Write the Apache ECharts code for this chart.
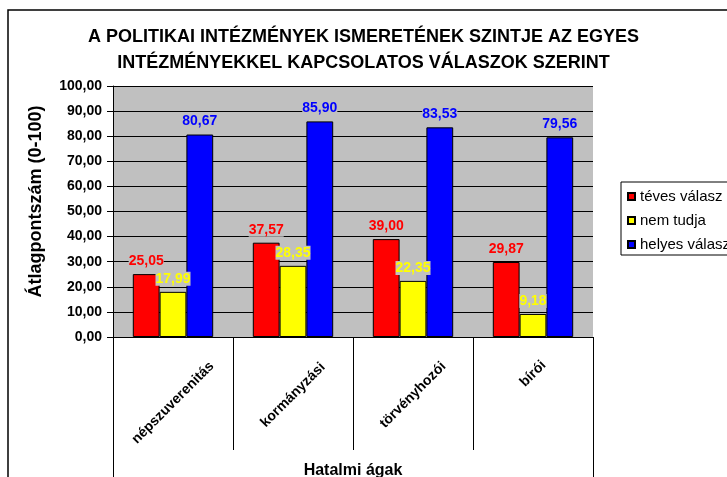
<!DOCTYPE html>
<html>
<head>
<meta charset="utf-8">
<script src="https://cdn.jsdelivr.net/npm/echarts@6/dist/echarts.min.js"></script>
<style>
  html, body { margin: 0; padding: 0; background: #fff; }
  #chart { width: 727px; height: 477px; }
</style>
</head>
<body>
<div id="chart"></div>
<script>
// adatok
var categories = ['népszuverenitás', 'kormányzási', 'törvényhozói', 'bírói'];
var teves = [25.05, 37.57, 39.00, 29.87];
var nemTudja = [17.99, 28.35, 22.35, 9.18];
var helyes = [80.67, 85.90, 83.53, 79.56];
// label shift (px, + = up) so rotated labels hang from the same top line
var labelShift = [-8, 0, 0, 21];

var font = 'Liberation Sans, Arial, sans-serif';
var fmt = function (v) { return v.toFixed(2).replace('.', ','); };

function catItem(name, i) {
  var d = labelShift[i];
  if (!d) {
    return { value: name, textStyle: { align: 'center', verticalAlign: 'middle' } };
  }
  // split the vertical shift into a shift along the text (padding)
  // and one across it (lineHeight + verticalAlign)
  var s = Math.abs(d) / 1.414;
  var p = Math.round(2 * s);
  return {
    value: name,
    textStyle: {
      align: 'center',
      verticalAlign: d > 0 ? 'bottom' : 'top',
      lineHeight: p,
      padding: d > 0 ? [0, 0, 0, p] : [0, p, 0, 0]
    }
  };
}

function barSeries(name, data, color) {
  return {
    name: name,
    type: 'bar',
    data: data,
    barGap: '0%',
    barCategoryGap: '33%',
    itemStyle: { color: color, borderColor: '#000', borderWidth: 1 },
    label: {
      show: true,
      position: 'top',
      distance: 6,
      color: color,
      fontFamily: font,
      fontWeight: 'bold',
      fontSize: 14,
      backgroundColor: '#c0c0c0',
      formatter: function (p) { return fmt(p.value); }
    }
  };
}

var chart = echarts.init(document.getElementById('chart'));
chart.setOption({
  animation: false,
  backgroundColor: '#fff',
  title: {
    text: 'A POLITIKAI INTÉZMÉNYEK ISMERETÉNEK SZINTJE AZ EGYES\nINTÉZMÉNYEKKEL KAPCSOLATOS VÁLASZOK SZERINT',
    left: 'center',
    top: 24,
    padding: 0,
    textStyle: { fontFamily: font, fontWeight: 'bold', fontSize: 18, lineHeight: 26, color: '#000' }
  },
  legend: {
    orient: 'vertical',
    left: 621,
    top: 182,
    padding: [7, 20, 3, 6],
    itemGap: 9,
    itemWidth: 7,
    itemHeight: 7,
    icon: 'rect',
    borderColor: '#000',
    borderWidth: 1,
    textStyle: { fontFamily: font, fontSize: 15, color: '#000' },
    data: ['téves válasz', 'nem tudja', 'helyes válasz']
  },
  grid: {
    left: 113, right: 134, top: 86, bottom: 140,
    outerBoundsMode: 'none',
    containLabel: false,
    show: true, backgroundColor: '#c0c0c0', borderWidth: 0
  },
  xAxis: {
    type: 'category',
    data: categories.map(catItem),
    name: 'Hatalmi ágak',
    nameLocation: 'middle',
    nameGap: 126,
    nameTextStyle: { fontFamily: font, fontWeight: 'bold', fontSize: 16, color: '#000' },
    axisLine: { lineStyle: { color: '#000', width: 1 } },
    axisTick: { show: true, length: 113, lineStyle: { color: '#000' } },
    axisLabel: {
      rotate: 45,
      margin: 58,
      fontFamily: font,
      fontWeight: 'bold',
      fontSize: 14,
      color: '#000'
    }
  },
  yAxis: {
    type: 'value',
    min: 0,
    max: 100,
    interval: 10,
    name: 'Átlagpontszám (0-100)',
    nameLocation: 'middle',
    nameGap: 68,
    nameTextStyle: { fontFamily: font, fontWeight: 'bold', fontSize: 18, color: '#000', padding: [0, 0, 0, 20] },
    axisLine: { show: true, lineStyle: { color: '#000' } },
    axisTick: { show: true, length: 6, lineStyle: { color: '#000' } },
    axisLabel: {
      fontFamily: font, fontWeight: 'bold', fontSize: 14, color: '#000', margin: 11,
      formatter: fmt
    },
    splitLine: { lineStyle: { color: '#000', width: 1 } }
  },
  series: [
    barSeries('téves válasz', teves, '#ff0000'),
    barSeries('nem tudja', nemTudja, '#ffff00'),
    barSeries('helyes válasz', helyes, '#0000ff')
  ],
  graphic: [
    { type: 'rect', shape: { x: 8, y: 10, width: 740, height: 490 }, style: { fill: null, stroke: '#000', lineWidth: 1.5 }, silent: true },
    { type: 'line', shape: { x1: 113.5, y1: 337, x2: 113.5, y2: 477 }, style: { stroke: '#000', lineWidth: 1 }, silent: true },
    { type: 'line', shape: { x1: 593.5, y1: 337, x2: 593.5, y2: 477 }, style: { stroke: '#000', lineWidth: 1 }, silent: true }
  ]
});
</script>
</body>
</html>
